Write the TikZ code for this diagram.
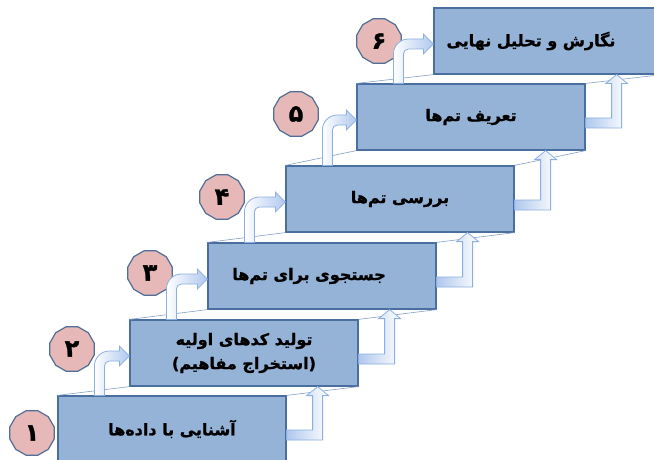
\documentclass[tikz,border=0pt]{standalone}
\usepackage{fontspec}
\newfontfamily\persian[Script=Arabic, BoldFeatures={FakeBold=1.2}]{DejaVu Sans}
\TeXXeTstate=1
\usetikzlibrary{calc}
\usetikzlibrary{shapes.geometric}
\definecolor{boxfill}{RGB}{149,179,215}
\definecolor{boxline}{RGB}{74,110,160}
\definecolor{numfill}{RGB}{230,185,184}
\definecolor{numline}{RGB}{80,110,150}
\definecolor{arrowline}{RGB}{140,175,225}
\definecolor{arrowfill}{RGB}{175,200,238}
\definecolor{edgecol}{RGB}{130,160,200}
\tikzset{stepbox/.style={draw=boxline, fill=boxfill, line width=1.2pt, minimum width=228pt, minimum height=66pt, inner sep=0pt, align=center, font=\persian\bfseries\fontsize{16}{24}\selectfont}}
\tikzset{numbox/.style={regular polygon, regular polygon sides=12, minimum size=46pt, inner sep=0pt, fill=numfill, draw=numline, line width=1.2pt, font=\persian\bfseries\fontsize{24}{24}\selectfont}}
\tikzset{bendarrow/.style={draw=arrowline, line width=0.8pt, left color=white, right color=arrowfill}}
\tikzset{uparrow/.style={draw=arrowline, line width=0.8pt, left color=arrowfill, right color=white}}
\tikzset{stairline/.style={draw=edgecol, line width=0.6pt}}

\begin{document}
\begin{tikzpicture}[x=1pt,y=1pt]
    \clip (0,0) rectangle (654,459);
    %steps
    \node[stepbox] (s1) at (172,30) {\beginR آشنایی با داده‌ها\endR};
    \node[stepbox] (s2) at (244,106) {\beginR تولید کدهای اولیه\endR\\\beginR (استخراج مفاهیم)\endR};
    \node[stepbox] (s3) at (322,183) {\beginR جستجوی برای تم‌ها\endR\hspace*{26pt}};
    \node[stepbox] (s4) at (400,260) {\beginR بررسی تم‌ها\endR};
    \node[stepbox] (s5) at (471,342) {\beginR تعریف تم‌ها\endR};
    \node[stepbox] (s6) at (548,418) {\beginR نگارش و تحلیل نهایی\endR\hspace*{34pt}};
    %stair lines
    \foreach \a/\b in {s1/s2,s2/s3,s3/s4,s4/s5,s5/s6}{
        \draw[stairline] (\a.north west) -- (\b.south west);
        \draw[stairline] (\a.north east) -- (\b.south east);
    }
    %numbers
    \node[numbox] (n1) at (32,26) {۱};
    \node[numbox] (n2) at (72,110) {۲};
    \node[numbox] (n3) at (150,186) {۳};
    \node[numbox] (n4) at (222,262) {۴};
    \node[numbox] (n5) at (296,345) {۵};
    \node[numbox] (n6) at (379,418) {۶};
    %left arrows
    \foreach \a/\b in {s1/s2,s2/s3,s3/s4,s4/s5,s5/s6}{
        \draw[bendarrow] let \p1=(\a.north west), \p2=($(\b.west)+(0,-3)$) in
            (\x1+37pt,\y1) -- (\x1+37pt,\y2-10pt) arc[start angle=180, end angle=90, radius=15pt]
            -- (\x2-10pt,\y2+5pt) -- (\x2-10pt,\y2+10pt) -- (\x2,\y2) -- (\x2-10pt,\y2-10pt) -- (\x2-10pt,\y2-5pt)
            -- (\x1+52pt,\y2-5pt) arc[start angle=90, end angle=180, radius=5pt] -- (\x1+47pt,\y1) -- cycle;
    }
    %right arrows
    \foreach \a/\b in {s1/s2,s2/s3,s3/s4,s4/s5,s5/s6}{
        \draw[uparrow] let \p1=(\a.east), \p2=(\b.south) in
            (\x1,\y1-1pt) -- (\x1+26pt,\y1-1pt) -- (\x1+26pt,\y2-9pt) -- (\x1+20pt,\y2-9pt) -- (\x1+31pt,\y2)
            -- (\x1+42pt,\y2-9pt) -- (\x1+36pt,\y2-9pt) -- (\x1+36pt,\y1-11pt) -- (\x1,\y1-11pt) -- cycle;
    }
\end{tikzpicture}
\end{document}
